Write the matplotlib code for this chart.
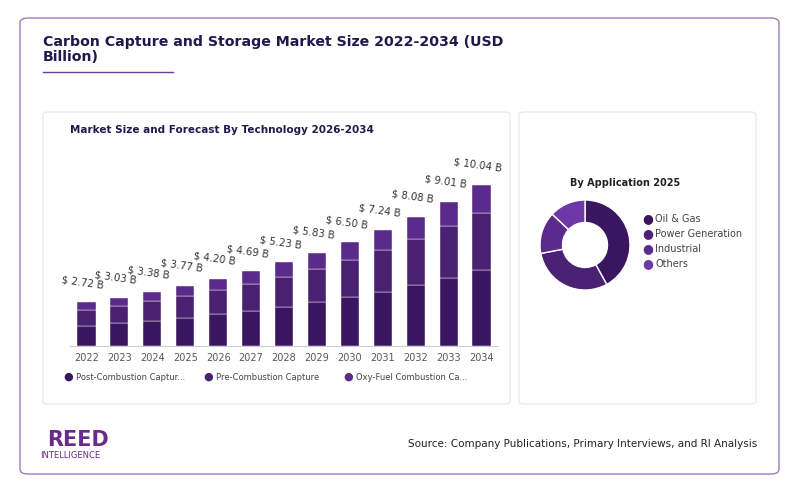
import matplotlib
matplotlib.use("Agg")
import matplotlib.pyplot as plt
from matplotlib.patches import FancyBboxPatch
import numpy as np

years = ["2022","2023","2024","2025","2026","2027","2028","2029","2030","2031","2032","2033","2034"]
totals = [2.72,3.03,3.38,3.77,4.20,4.69,5.23,5.83,6.50,7.24,8.08,9.01,10.04]
post = [1.28,1.42,1.59,1.77,1.97,2.20,2.46,2.74,3.06,3.40,3.80,4.23,4.72]
pre = [0.98,1.09,1.22,1.36,1.51,1.69,1.88,2.10,2.34,2.61,2.91,3.24,3.61]
oxy = [0.46,0.52,0.57,0.64,0.72,0.80,0.89,0.99,1.10,1.23,1.37,1.54,1.71]
series_names = ["Post-Combustion Captur...", "Pre-Combustion Capture", "Oxy-Fuel Combustion Ca..."]
bar_colors = ["#3a1660", "#4a2070", "#5b2b8c"]

apps = ["Oil & Gas", "Power Generation", "Industrial", "Others"]
app_vals = [42, 30, 15, 13]
pie_colors = ["#3a1660", "#4a2173", "#5a2b8c", "#6d38a6"]

W, H = 800, 493
fig = plt.figure(figsize=(8, 4.93), dpi=100)
fig.patch.set_facecolor("white")

def box(x0, y0, x1, y1, ec, fc, lw=1, r=6):
    p = FancyBboxPatch((x0/W, 1-y1/H), (x1-x0)/W, (y1-y0)/H,
                       boxstyle=f"round,pad=0,rounding_size={r/W}",
                       transform=fig.transFigure, ec=ec, fc=fc, lw=lw, zorder=-10)
    fig.patches.append(p)

box(20, 18, 779, 474, "#9c7bc0", "white", lw=1, r=8)
box(43, 112, 510, 404, "#e6e6ec", "white", lw=0.8, r=5)
box(519, 112, 756, 404, "#e6e6ec", "white", lw=0.8, r=5)

fig.text(43/W, 1-35/H, "Carbon Capture and Storage Market Size 2022-2034 (USD\nBillion)",
         fontsize=10.2, fontweight="bold", color="#1f1a4d", va="top", ha="left", linespacing=1.05)
fig.lines.append(plt.Line2D([43/W, 173/W], [1-72/H, 1-72/H], transform=fig.transFigure, color="#6a3aa0", lw=1))

fig.text(70/W, 1-130/H, "Market Size and Forecast By Technology 2026-2034", fontsize=7.5,
         fontweight="bold", color="#1f1a4d", va="center")

ax = fig.add_axes([70/W, 1-346/H, (498-70)/W, (346-154)/H])
ax.patch.set_alpha(0)
x = np.arange(len(years))
b = np.zeros(len(years))
for vals, c in zip([post, pre, oxy], bar_colors):
    ax.bar(x, vals, bottom=b, width=0.55, color=c, edgecolor="white", linewidth=0.3)
    b += np.array(vals)
for xi, t in zip(x, totals):
    ax.text(xi-0.1, t+0.75, f"$ {t:.2f} B", fontsize=7.3, color="#333333", ha="center",
            va="bottom", rotation=-8)
ax.set_xlim(-0.5, len(years)-0.5)
ax.set_ylim(0, 12)
ax.set_xticks(x)
ax.set_xticklabels(years, fontsize=7, color="#555566")
ax.tick_params(axis="x", length=0, pad=5)
ax.set_yticks([])
for s in ["top", "right", "left"]:
    ax.spines[s].set_visible(False)
ax.spines["bottom"].set_color("#cccccc")

for i, (nm, c) in enumerate(zip(series_names, bar_colors)):
    xp = [68, 208, 348][i]
    fig.text(xp/W, 1-377/H, "●", fontsize=8, color=c, va="center", ha="center")
    fig.text((xp+8)/W, 1-377/H, nm, fontsize=6, color="#444444", va="center")

fig.text(625/W, 1-183/H, "By Application 2025", fontsize=7, fontweight="bold", color="#222222", ha="center", va="center")
pax = fig.add_axes([(585-45)/W, 1-(245+45)/H, 90/W, 90/H])
pax.pie(app_vals, colors=pie_colors, startangle=90, counterclock=False, radius=1.0,
        wedgeprops=dict(width=0.5, edgecolor="white", linewidth=1))
pax.set_xlim(-1, 1)
pax.set_ylim(-1, 1)
pax.set_aspect("equal")
for i, (nm, c) in enumerate(zip(apps, pie_colors)):
    yp = 219 + i*15
    fig.text(648/W, 1-yp/H, "●", fontsize=9, color=c, va="center", ha="center")
    fig.text(655/W, 1-yp/H, nm, fontsize=7, color="#444444", va="center")

fig.text(47/W, 1-440/H, "REED", fontsize=15, fontweight="bold", color="#6a2a8a", va="center", ha="left")
fig.text(40/W, 1-456/H, "INTELLIGENCE", fontsize=6, color="#6a2a8a", va="center", ha="left")
fig.text(757/W, 1-444/H, "Source: Company Publications, Primary Interviews, and RI Analysis",
         fontsize=7.5, color="#222222", ha="right", va="center")

fig.savefig("out.png", dpi=100, facecolor="white")
